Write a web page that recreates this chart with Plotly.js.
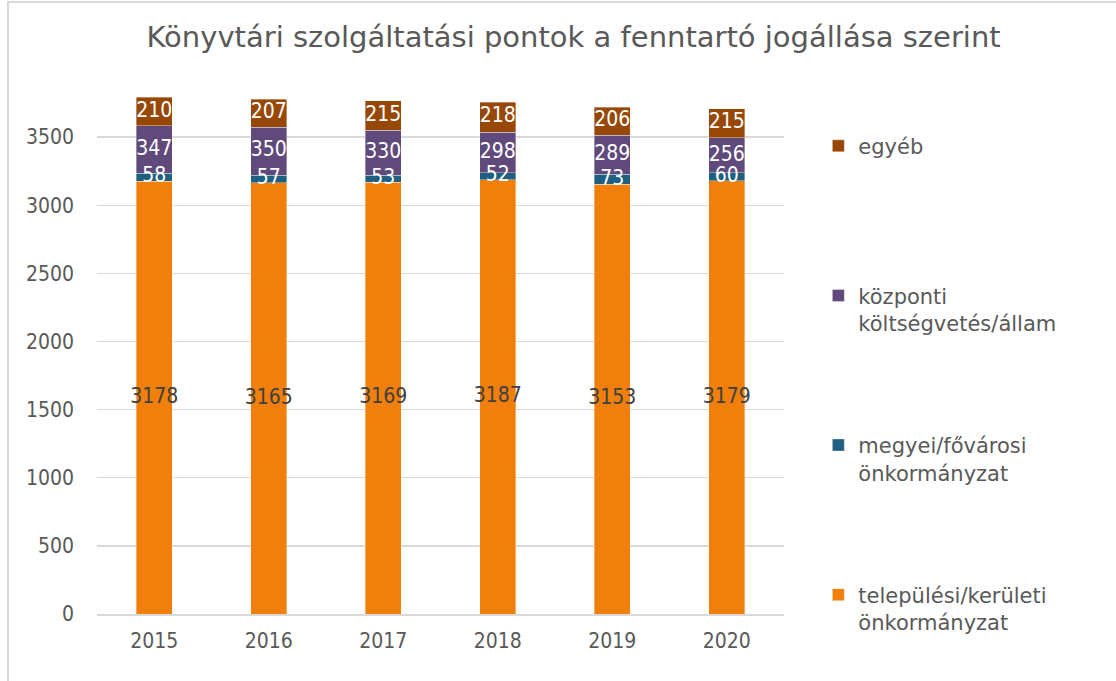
<!DOCTYPE html>
<html>
<head>
<meta charset="utf-8">
<script src="https://cdn.plot.ly/plotly-3.0.1.min.js"></script>
<style>
  html, body { margin: 0; padding: 0; background: #ffffff; overflow: hidden; }
  #frame { position: absolute; left: 7px; top: 1px; width: 1200px; height: 800px; border: 2px solid #d9d9d9; box-sizing: border-box; }
  #chart { position: absolute; left: 0; top: 0; width: 1116px; height: 681px; }
</style>
</head>
<body>
<div id="frame"></div>
<div id="chart"></div>
<script>
const years = ['2015', '2016', '2017', '2018', '2019', '2020'];
const telepulesi = [3178, 3165, 3169, 3187, 3153, 3179];
const megyei = [58, 57, 53, 52, 73, 60];
const kozponti = [347, 350, 330, 298, 289, 256];
const egyeb = [210, 207, 215, 218, 206, 215];
const seriesNames = [
  'települési/kerületi<br>önkormányzat',
  'megyei/fővárosi<br>önkormányzat',
  'központi<br>költségvetés/állam',
  'egyéb<br>\u00a0'
];
const yTicks = [0, 500, 1000, 1500, 2000, 2500, 3000, 3500];

const FONT = 'DejaVu Sans, sans-serif';
const FONT_C = 'DejaVu Sans Condensed, DejaVu Sans, sans-serif';
const colors = ['#F07F0B', '#1F5F7F', '#604A7B', '#974806'];
const textColors = ['#404040', '#ffffff', '#ffffff', '#ffffff'];
const values = [telepulesi, megyei, kozponti, egyeb];

const barTraces = values.map((v, i) => ({
  type: 'bar',
  x: years,
  y: v,
  name: seriesNames[i],
  legendgroup: 'g' + i,
  legendrank: 1000 - i,
  marker: { color: colors[i], line: { color: 'rgba(255,255,255,0.6)', width: 0.6 } },
  hoverinfo: 'x+y+name'
}));

// data labels: centred on each stacked segment, drawn above all bars
const base = years.map(() => 0);
const labelTraces = values.map((v, i) => {
  const mids = v.map((val, j) => base[j] + val / 2);
  v.forEach((val, j) => { base[j] += val; });
  return {
    type: 'scatter',
    mode: 'text',
    x: years,
    y: mids,
    text: v.map(String),
    textposition: 'middle center',
    textfont: { family: FONT_C, size: 21, color: textColors[i] },
    showlegend: false,
    hoverinfo: 'skip',
    cliponaxis: false
  };
});

const layout = {
  width: 1116,
  height: 681,
  paper_bgcolor: 'rgba(0,0,0,0)',
  plot_bgcolor: 'rgba(0,0,0,0)',
  barmode: 'stack',
  bargap: 0.685,
  margin: { l: 97, r: 332, t: 69, b: 67, pad: 0 },
  font: { family: FONT, color: '#595959', size: 20 },
  title: {
    text: 'Könyvtári szolgáltatási pontok a fenntartó jogállása szerint',
    font: { family: FONT, size: 29, color: '#595959' },
    x: 0.514, xanchor: 'center', xref: 'container',
    y: 0.946, yanchor: 'middle', yref: 'container'
  },
  xaxis: {
    type: 'category',
    tickfont: { family: FONT_C, size: 21, color: '#595959' },
    showgrid: false,
    showline: true,
    linecolor: '#d9d9d9',
    linewidth: 1.5,
    ticks: '',
    ticklabelstandoff: 7
  },
  yaxis: {
    range: [0, 4000],
    tickvals: yTicks,
    ticktext: yTicks.map(String),
    tickfont: { family: FONT_C, size: 21, color: '#595959' },
    showgrid: true,
    gridcolor: '#d9d9d9',
    gridwidth: 1.3,
    zeroline: false,
    showline: false,
    ticks: '',
    ticklabelstandoff: 22
  },
  legend: {
    x: 1.05, xanchor: 'left', xref: 'paper',
    y: 0.896, yanchor: 'top', yref: 'paper',
    traceorder: 'grouped',
    tracegroupgap: 92,
    valign: 'top',
    font: { family: FONT, size: 21, color: '#595959' },
    bgcolor: 'rgba(0,0,0,0)'
  },
  showlegend: true
};

Plotly.newPlot('chart', barTraces.concat(labelTraces), layout, { displayModeBar: false, staticPlot: true });
</script>
</body>
</html>
